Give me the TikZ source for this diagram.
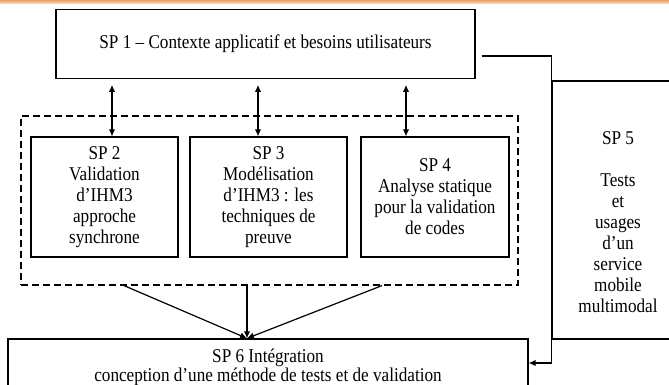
\documentclass[tikz,border=0pt]{standalone}
\usepackage{fontspec}
\setmainfont{Liberation Serif}[FakeStretch=0.88]
\usetikzlibrary{arrows.meta}
\definecolor{barTop}{RGB}{236,160,92}
\definecolor{barBot}{RGB}{250,222,195}
\begin{document}
\begin{tikzpicture}[x=1pt,y=-1pt,
  box/.style={draw, line width=1.3pt, inner sep=0pt, align=center,
    font=\fontsize{19.5}{21}\selectfont},
  label/.style={inner sep=0pt, align=center, font=\fontsize{19.5}{21}\selectfont},
  link/.style={line width=1.2pt},
  head/.style={-{Latex[length=7pt,width=6.5pt]}},
  both/.style={{Latex[length=7pt,width=6.5pt]}-{Latex[length=7pt,width=6.5pt]}},
  group/.style={draw, line width=1.2pt, dash pattern=on 7pt off 4pt}]
\useasboundingbox (0,0) rectangle (669,385);
\clip (0,0) rectangle (669,385);

% header strip
\shade[top color=barTop, bottom color=barBot] (0,0) rectangle (669,3.5);

% work packages
\node[box, minimum width=419pt, minimum height=68.5pt] (sp1) at (265.5,44)
  {SP 1 -- Contexte applicatif et besoins utilisateurs};
\node[group, minimum width=497pt, minimum height=169pt] (grp) at (269.5,200.5) {};
\node[box, minimum width=147pt, minimum height=120pt] (sp2) at (104.5,197)
  {SP 2\\Validation\\d’IHM3\\approche\\synchrone};
\node[box, minimum width=157pt, minimum height=120pt] (sp3) at (268.5,197)
  {SP 3\\Modélisation\\d’IHM3 : les\\techniques de\\preuve};
\node[box, minimum width=148pt, minimum height=120pt] (sp4) at (435,197)
  {SP 4\\Analyse statique\\pour la validation\\de codes};
\node[draw, line width=1.3pt, minimum width=148pt, minimum height=258pt] (sp5) at (626,210) {};
\node[label] (sp5t) at (618,222)
  {SP 5\\[21pt]Tests\\et\\usages\\d’un\\service\\mobile\\multimodal};
\node[box, minimum width=520pt, minimum height=57pt, font=\fontsize{19.5}{19.5}\selectfont]
  (sp6) at (268,367.5)
  {SP 6 Intégration\\conception d’une méthode de tests et de validation};

% exchanges between SP 1 and SP 2-4
\foreach \n/\dx in {sp2/7.5, sp3/-10.5, sp4/-29}{
  \path ([xshift=\dx pt]\n.north) coordinate (\n top);
  \draw[link, both, shorten >=6pt] (\n top) -- (\n top |- sp1.south);
}

% SP 2-4 feeding SP 6
\coordinate (meet) at ([xshift=-21pt]sp6.north);
\foreach \dx in {-145.5, -22.5, 112.5}{
  \draw[link, head] ([xshift=\dx pt]grp.south) -- (meet);
}

% SP 1 to SP 6 along SP 5
\coordinate (out1) at ([xshift=6pt]sp1.east |- 0,56);
\coordinate (down) at (sp5.west |- 0,363);
\draw[link, head] (out1) -| (down) -- (sp6.east |- down);
\end{tikzpicture}
\end{document}
